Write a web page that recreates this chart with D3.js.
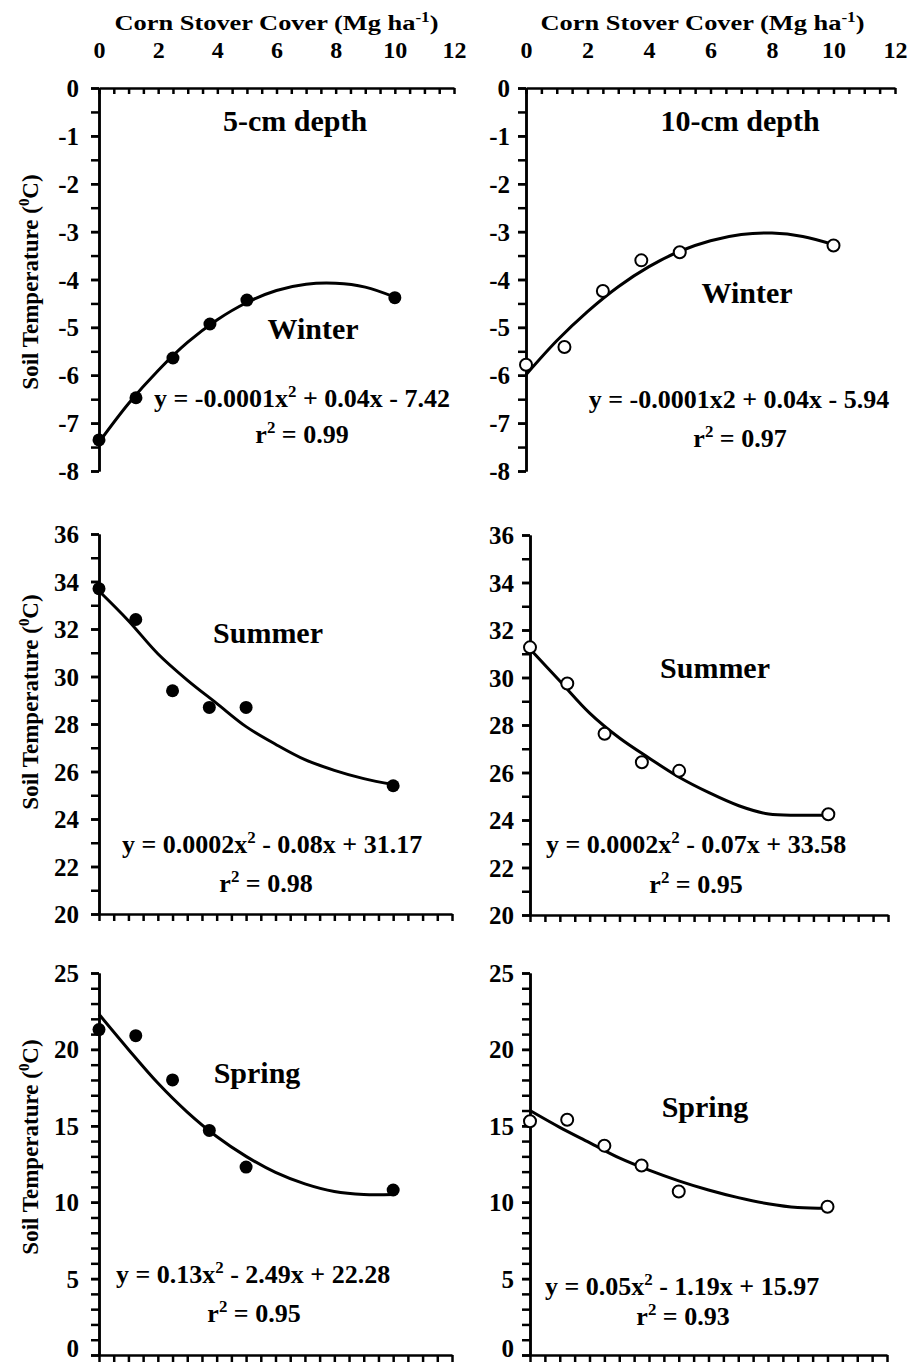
<!DOCTYPE html>
<html>
<head>
<meta charset="utf-8">
<script src="https://cdn.jsdelivr.net/npm/d3@7"></script>
<style>
  body { margin: 0; background: #fff; }
  svg { display: block; }
  text { font-family: "Liberation Serif", "Times New Roman", serif; font-weight: bold; fill: #000; }
  .axis path, .axis line { stroke: #000; stroke-width: 2.5; }
</style>
</head>
<body>
<div id="chart"></div>
<script>
const width = 910;
const height = 1362;

// stover cover (Mg/ha) for the measured plots
const stover = [0, 1.25, 2.5, 3.75, 5, 10];
// x positions where the fitted curves were read
const fitX = [0, 1, 2, 3, 4, 5, 6, 7, 8, 9, 10];
const xTickLabels = [0, 2, 4, 6, 8, 10, 12];

// soil temperature
const winter5 = [-7.35, -6.47, -5.64, -4.93, -4.43, -4.38];
const winter5Fit = [-7.40, -6.59, -5.90, -5.31, -4.84, -4.48, -4.23, -4.10, -4.08, -4.16, -4.37];
const winter10 = [-5.78, -5.41, -4.24, -3.60, -3.43, -3.29];
const winter10Fit = [-5.99, -5.28, -4.67, -4.15, -3.73, -3.41, -3.19, -3.06, -3.03, -3.10, -3.27];
const summer5 = [33.7, 32.4, 29.4, 28.7, 28.7, 25.4];
const summer5Fit = [33.6, 32.35, 30.96, 29.85, 28.87, 27.89, 27.15, 26.5, 26.05, 25.7, 25.45];
const summer10 = [31.27, 29.75, 27.63, 26.43, 26.07, 24.24];
const summer10Fit = [31.2, 29.85, 28.5, 27.45, 26.6, 25.8, 25.15, 24.6, 24.25, 24.2, 24.2];
const spring5 = [21.3, 20.9, 18.0, 14.7, 12.3, 10.8];
const spring5Fit = [22.3, 20.0, 17.8, 15.9, 14.3, 13.0, 11.95, 11.2, 10.7, 10.5, 10.5];
const spring10 = [15.3, 15.4, 13.7, 12.4, 10.7, 9.7];
const spring10Fit = [16.0, 14.9, 13.9, 12.9, 12.1, 11.4, 10.8, 10.3, 9.9, 9.65, 9.6];

const seasons = ["Winter", "Summer", "Spring"];
const depths = ["5-cm depth", "10-cm depth"];
const yDomains = [[-8, 0], [20, 36], [0, 25]];
const yMajor = [d3.range(-8, 0.1, 1), d3.range(20, 36.1, 2), d3.range(0, 25.1, 5)];
const yMinor = [d3.range(-8, 0.1, 0.5), d3.range(20, 36.1, 1), d3.range(0, 25.1, 1)];
const xMinor = d3.range(0, 12.01, 0.5);

// equation labels: [text, superscript?]
const equations = [
  [["y = -0.0001x"], ["2", 1], [" + 0.04x - 7.42"]],
  [["y = -0.0001x2 + 0.04x - 5.94"]],
  [["y = 0.0002x"], ["2", 1], [" - 0.08x + 31.17"]],
  [["y = 0.0002x"], ["2", 1], [" - 0.07x + 33.58"]],
  [["y = 0.13x"], ["2", 1], [" - 2.49x + 22.28"]],
  [["y = 0.05x"], ["2", 1], [" - 1.19x + 15.97"]]
];
const r2 = ["0.99", "0.97", "0.98", "0.95", "0.95", "0.93"];

const series = [
  [winter5, winter5Fit], [winter10, winter10Fit],
  [summer5, summer5Fit], [summer10, summer10Fit],
  [spring5, spring5Fit], [spring10, spring10Fit]
];

// layout of the six panels (pixel frames) and label spots
const frames = [
  {x: [99, 454], y: [88, 471]},
  {x: [526, 895], y: [88, 471]},
  {x: [99, 452], y: [534, 914]},
  {x: [530, 888], y: [535, 915]},
  {x: [99, 452], y: [973, 1355]},
  {x: [530, 887], y: [973, 1355]}
];
const seasonPos = [[313, 339], [747, 303], [268, 643], [715, 678], [257, 1083], [705, 1117]];
const eqPos = [[302, 407], [739, 408], [272, 853], [696, 853], [253, 1283], [682, 1295]];
const r2Pos = [[302, 443], [740, 447], [266, 892], [696, 893], [254, 1322], [683, 1325]];
const yTitleY = [282, 702, 1147];

const svg = d3.select("#chart").append("svg")
  .attr("width", width)
  .attr("height", height);

function addText(x, y, size, parts, opts = {}) {
  const t = svg.append("text")
    .attr("transform", `translate(${x},${y})` + (opts.rotate ? ` rotate(${opts.rotate})` : "") + (opts.sx ? ` scale(${opts.sx},1)` : ""))
    .attr("text-anchor", opts.anchor || "middle")
    .style("font-size", size + "px");
  let up = false;
  for (let p of parts) {
    const s = t.append("tspan").text(p[0]);
    if (p[1]) {
      s.attr("dy", -0.38 * size).style("font-size", (0.65 * size) + "px");
      up = true;
    } else if (up) {
      s.attr("dy", 0.38 * size);
      up = false;
    }
  }
  return t;
}

for (let i = 0; i < 6; i++) {
  const f = frames[i];
  const col = i % 2;
  const row = Math.floor(i / 2);
  const x = d3.scaleLinear().domain([0, 12]).range(f.x);
  const y = d3.scaleLinear().domain(yDomains[row]).range([f.y[1], f.y[0]]);
  const pad = col === 0 ? 12 : 8;

  // y axis: minor then major with labels
  svg.append("g").attr("class", "axis")
    .attr("transform", `translate(${f.x[0]},0)`)
    .call(d3.axisLeft(y).tickValues(yMinor[row]).tickSize(8).tickSizeOuter(0).tickFormat(""));
  svg.append("g").attr("class", "axis")
    .attr("transform", `translate(${f.x[0]},0)`)
    .call(d3.axisLeft(y).tickValues(yMajor[row]).tickSize(8).tickSizeOuter(0).tickPadding(pad).tickFormat(d => String(d)))
    .call(g => g.selectAll("text").style("font-size", "25px")
      .attr("dy", d => (row === 2 && d === 0) ? "0.06em" : "0.34em"));

  // x axis
  if (row === 0) {
    svg.append("g").attr("class", "axis")
      .attr("transform", `translate(0,${f.y[0]})`)
      .call(d3.axisBottom(x).tickValues(xMinor).tickSize(6).tickSizeOuter(0).tickFormat(""));
    svg.append("g")
      .attr("transform", `translate(0,58)`)
      .call(d3.axisTop(x).tickValues(xTickLabels).tickSize(0).tickPadding(0).tickFormat(d => String(d)))
      .call(g => g.select(".domain").remove())
      .call(g => g.selectAll("text").style("font-size", "24px"));
    addText((f.x[0] + f.x[1]) / 2 - (col ? 8 : 0), 30, 22,
      [["Corn Stover Cover (Mg ha"], ["-1", 1], [")"]], {sx: 1.2});
    addText(col ? 740 : 295, 131, 30, [[depths[col]]]);
  } else {
    svg.append("g").attr("class", "axis")
      .attr("transform", `translate(0,${f.y[1]})`)
      .call(d3.axisBottom(x).tickValues(xMinor).tickSize(7).tickSizeOuter(0).tickFormat(""));
  }

  // fitted curve
  const [pts, fit] = series[i];
  const line = d3.line()
    .x(d => x(d[0]))
    .y(d => y(d[1]))
    .curve(d3.curveCatmullRom);
  svg.append("path")
    .datum(d3.zip(fitX, fit))
    .attr("d", line)
    .attr("fill", "none")
    .attr("stroke", "#000")
    .attr("stroke-width", 3);

  // observed points
  svg.append("g").selectAll("circle")
    .data(d3.zip(stover, pts))
    .join("circle")
    .attr("cx", d => x(d[0]))
    .attr("cy", d => y(d[1]))
    .attr("r", col === 0 ? 6.5 : 6)
    .attr("fill", col === 0 ? "#000" : "#fff")
    .attr("stroke", "#000")
    .attr("stroke-width", col === 0 ? 0 : 2);

  addText(seasonPos[i][0], seasonPos[i][1], 30, [[seasons[row]]]);
  addText(eqPos[i][0], eqPos[i][1], 26, equations[i]);
  addText(r2Pos[i][0], r2Pos[i][1], 26, [["r"], ["2", 1], [" = " + r2[i]]]);

  if (col === 0) {
    addText(38, yTitleY[row], 23, [["Soil Temperature ("], ["0", 1], ["C)"]], {rotate: -90});
  }
}
</script>
</body>
</html>
